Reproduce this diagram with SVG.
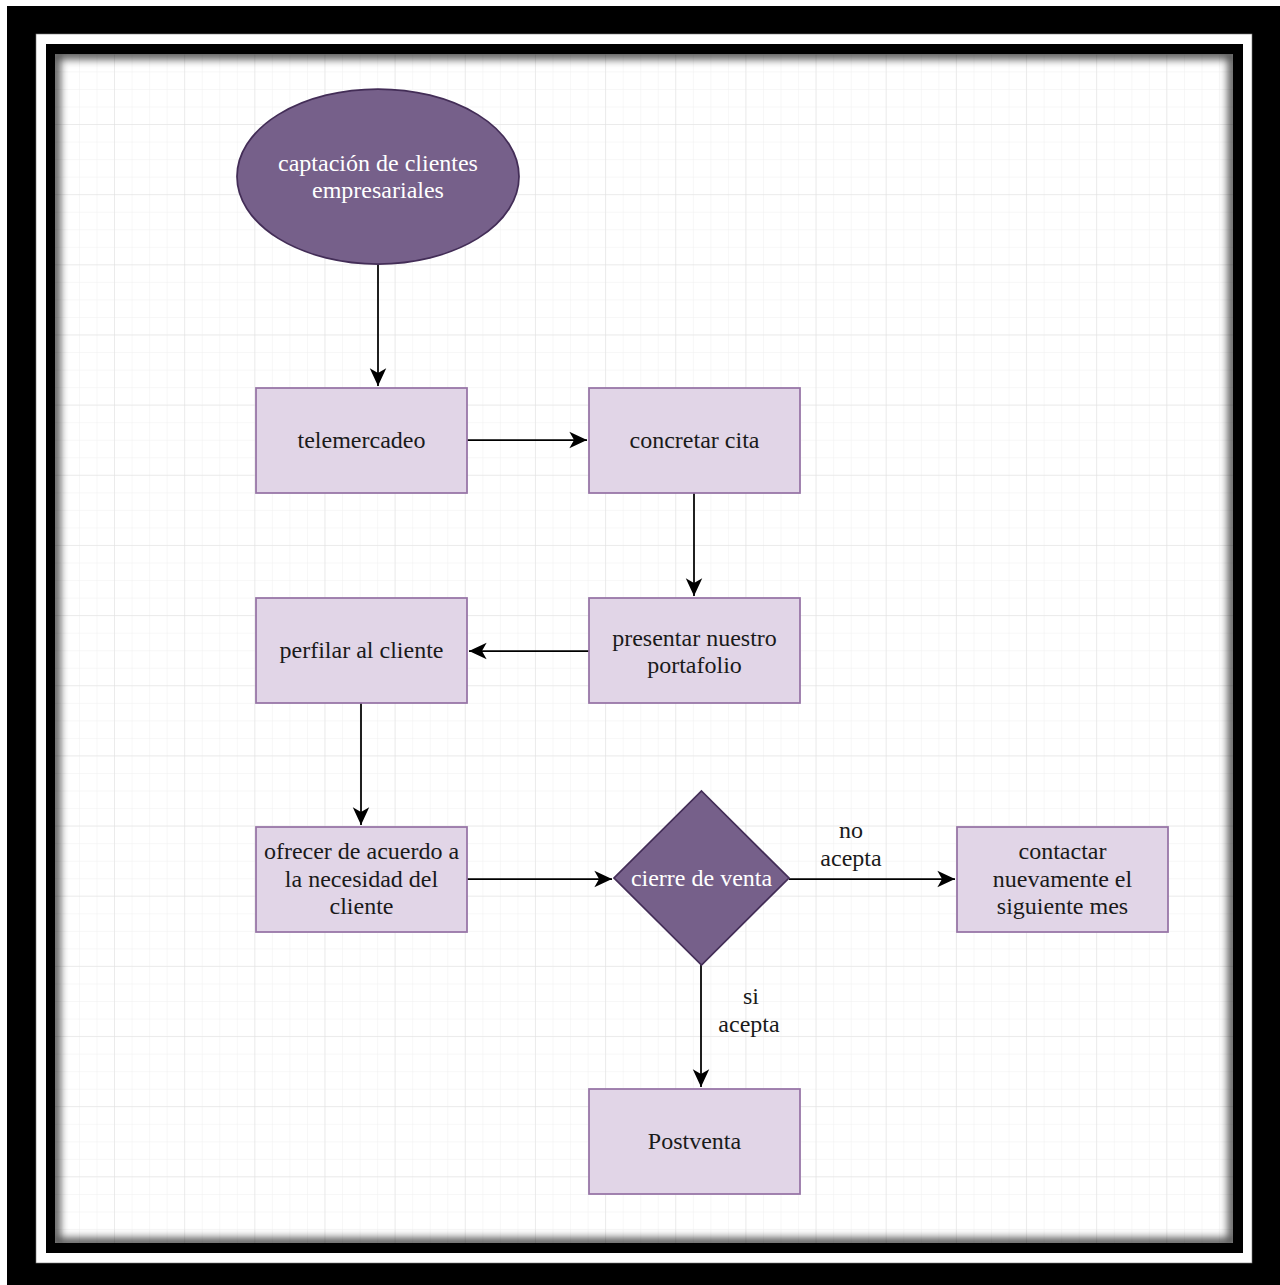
<svg xmlns="http://www.w3.org/2000/svg" width="1280" height="1285" viewBox="0 0 1280 1285">
<style>
.box{fill:#e1d5e7;stroke:#9673a6;stroke-width:1.75}
.dark{fill:#76608a;stroke:#432d57;stroke-width:1.75}
.t{font-family:"Liberation Serif","Times New Roman",serif;font-size:24px;fill:#1a1a1a;text-anchor:middle}
.w{fill:#ffffff}
.edge{stroke:#000;stroke-width:1.75;fill:none}
</style>
<defs>
<pattern id="minor" x="44.85" y="54.85" width="17.54" height="17.54" patternUnits="userSpaceOnUse">
<path d="M17.54 0V17.54M0 17.54H17.54" stroke="#f0f0f0" stroke-width="1" fill="none"/>
</pattern>
<pattern id="major" x="44.85" y="54.85" width="70.15" height="70.15" patternUnits="userSpaceOnUse">
<path d="M70.15 0V70.15M0 70.15H70.15" stroke="#e0e0e0" stroke-width="1" fill="none"/>
</pattern>
<clipPath id="gc"><rect x="55" y="54" width="1178" height="1189"/></clipPath>
<filter id="blur" x="-10%" y="-10%" width="120%" height="120%"><feGaussianBlur stdDeviation="4"/></filter>
<marker id="arr" markerUnits="userSpaceOnUse" markerWidth="20" markerHeight="20" viewBox="-16 -8 17 16" refX="0" refY="0" orient="auto">
<path d="M0 0L-15 -7L-11 0L-15 7Z" fill="#000"/>
</marker>
</defs>
<g id="frame">
<rect x="0" y="0" width="1280" height="1285" fill="#ffffff"/>
<rect x="7" y="6" width="1273" height="1279" fill="#000"/>
<rect x="36" y="34" width="1216" height="1229" fill="#fff" stroke="#777" stroke-width="0.6"/>
<rect x="46" y="44" width="1197" height="1209" fill="#000"/>
<rect x="55" y="54" width="1178" height="1189" fill="#fff"/>
<rect x="55" y="54" width="1178" height="1189" fill="url(#minor)"/>
<rect x="55" y="54" width="1178" height="1189" fill="url(#major)"/>
<g clip-path="url(#gc)"><rect x="55" y="54" width="1178" height="1189" fill="none" stroke="#000" stroke-width="10" filter="url(#blur)" opacity="0.7"/></g>
</g>
<g id="connectors">
<path class="edge" d="M378 264V386" marker-end="url(#arr)"/>
<path class="edge" d="M467 440H587" marker-end="url(#arr)"/>
<path class="edge" d="M694 493V596" marker-end="url(#arr)"/>
<path class="edge" d="M589 651H469" marker-end="url(#arr)"/>
<path class="edge" d="M361 703V825" marker-end="url(#arr)"/>
<path class="edge" d="M467 879H612" marker-end="url(#arr)"/>
<path class="edge" d="M789 879H955" marker-end="url(#arr)"/>
<path class="edge" d="M701 965V1087" marker-end="url(#arr)"/>
<text class="t" x="851" y="838">no</text>
<text class="t" x="851" y="866">acepta</text>
<text class="t" x="751" y="1004">si</text>
<text class="t" x="749" y="1032">acepta</text>
</g>
<g id="n-captacion">
<ellipse class="dark" cx="378" cy="176.5" rx="141" ry="87.5"/>
<text class="t w" x="378" y="171">captación de clientes</text>
<text class="t w" x="378" y="198">empresariales</text>
</g>
<g id="n-telemercadeo">
<rect class="box" x="256" y="388" width="211" height="105"/>
<text class="t" x="361.5" y="448">telemercadeo</text>
</g>
<g id="n-concretar">
<rect class="box" x="589" y="388" width="211" height="105"/>
<text class="t" x="694.5" y="448">concretar cita</text>
</g>
<g id="n-presentar">
<rect class="box" x="589" y="598" width="211" height="105"/>
<text class="t" x="694.5" y="646">presentar nuestro</text>
<text class="t" x="694.5" y="673">portafolio</text>
</g>
<g id="n-perfilar">
<rect class="box" x="256" y="598" width="211" height="105"/>
<text class="t" x="361.5" y="658">perfilar al cliente</text>
</g>
<g id="n-ofrecer">
<rect class="box" x="256" y="827" width="211" height="105"/>
<text class="t" x="361.5" y="859">ofrecer de acuerdo a</text>
<text class="t" x="361.5" y="887">la necesidad del</text>
<text class="t" x="361.5" y="914">cliente</text>
</g>
<g id="n-cierre">
<polygon class="dark" points="701.5,791 789,878 701.5,965 614,878"/>
<text class="t w" x="701.5" y="886">cierre de venta</text>
</g>
<g id="n-contactar">
<rect class="box" x="957" y="827" width="211" height="105"/>
<text class="t" x="1062.5" y="859">contactar</text>
<text class="t" x="1062.5" y="887">nuevamente el</text>
<text class="t" x="1062.5" y="914">siguiente mes</text>
</g>
<g id="n-postventa">
<rect class="box" x="589" y="1089" width="211" height="105"/>
<text class="t" x="694.5" y="1149">Postventa</text>
</g>
</svg>
